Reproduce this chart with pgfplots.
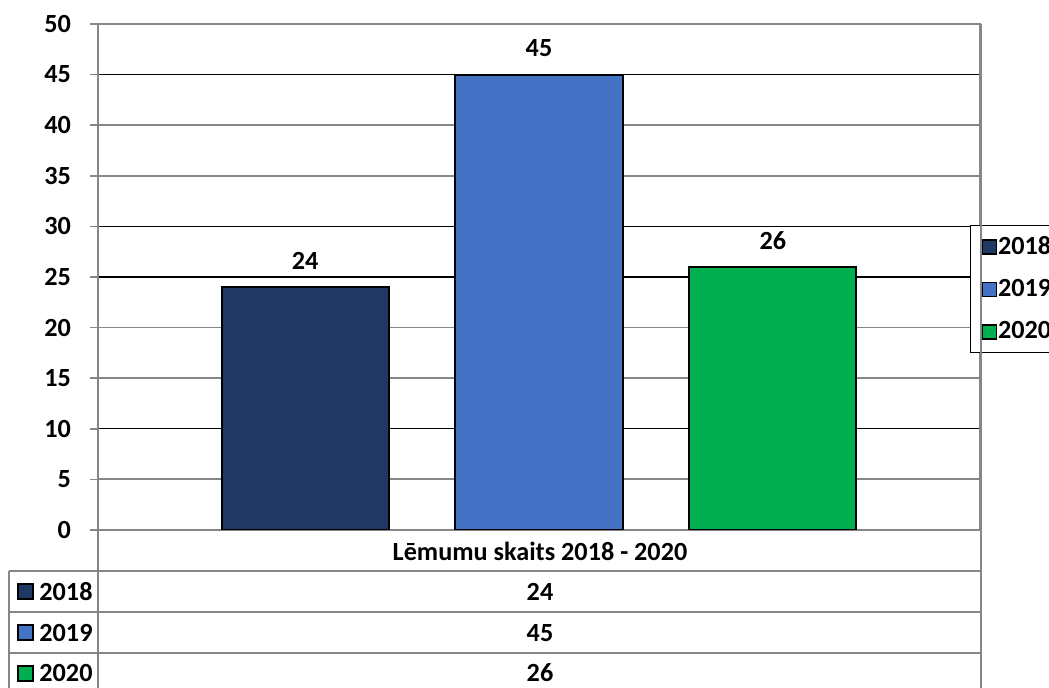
\documentclass[border=0pt]{standalone}
\usepackage{fontspec}
\setmainfont{Carlito}
\usepackage{pgfplots}
\pgfplotsset{compat=1.18}

\definecolor{c2018}{RGB}{32,56,100}
\definecolor{c2019}{RGB}{68,114,196}
\definecolor{c2020}{RGB}{0,176,80}
\definecolor{axgray}{RGB}{134,134,134}

\newcommand{\lbl}{\fontsize{13.1}{15}\selectfont\bfseries}

\begin{document}
\begin{tikzpicture}
\useasboundingbox (0,0) rectangle (524.5pt,344pt);
\clip (0,0) rectangle (524.5pt,344pt);
\begin{axis}[
    at={(49pt,79pt)}, anchor=south west,
    scale only axis, width=441pt, height=253pt,
    xmin=-1.885, xmax=1.885,
    ymin=0, ymax=50,
    ybar, bar width=0.714, bar shift=0pt,
    xtick=\empty,
    ytick={10,25,30,45},
    extra y ticks={0,5,15,20,35,40,50},
    ymajorgrids=true,
    grid style={black, line width=0.6pt},
    extra y tick style={grid style={axgray, line width=0.9pt}},
    ytick pos=left, tick align=outside,
    major tick length=4pt,
    tick style={axgray, line width=0.8pt},
    axis line style={axgray, line width=1.3pt},
    /pgf/number format/assume math mode=true,
    yticklabel style={font=\lbl, xshift=-6pt},
    nodes near coords,
    every node near coord/.append style={font=\lbl, yshift=5pt, black},
    legend style={at={(0.9887,0.6028)}, anchor=north west,
        draw=black, line width=0.5pt, font=\lbl,
        inner xsep=5.5pt, inner ysep=3.5pt,
        nodes={inner xsep=0.5pt},
        row sep=7pt, cells={anchor=west}},
    legend image code/.code={\draw[#1, draw=black, line width=0.8pt] (0pt,-3.5pt) rectangle (7pt,3.5pt);},
]
\addplot[fill=c2018, draw=black, line width=1pt] coordinates {(-1,24)};
\addplot[fill=c2019, draw=black, line width=1pt] coordinates {(0,45)};
\addplot[fill=c2020, draw=black, line width=1pt] coordinates {(1,26)};
\legend{2018,2019,2020}
\end{axis}
% data table below the plot (pixel coordinates of the reference)
\begin{scope}[x=0.5pt, y=-0.5pt, yshift=344pt]
  \draw[axgray, line width=1.3pt] (981,24) -- (981,694);
  \draw[axgray, line width=1.3pt] (98,530) -- (98,694);
  \draw[axgray, line width=1pt] (9,571) -- (981,571);
  \draw[axgray, line width=1pt] (9,612) -- (981,612);
  \draw[axgray, line width=1pt] (9,653) -- (981,653);
  \draw[axgray, line width=1pt] (9,571) -- (9,694);
  \node[font=\lbl] at (540,551) {Lēmumu skaits 2018 - 2020};
  \node[font=\lbl] at (540,592) {24};
  \node[font=\lbl] at (540,633) {45};
  \node[font=\lbl] at (540,673) {26};
  \draw[fill=c2018, draw=black, line width=0.8pt] (18,584) rectangle (33,599);
  \draw[fill=c2019, draw=black, line width=0.8pt] (18,625) rectangle (33,640);
  \draw[fill=c2020, draw=black, line width=0.8pt] (18,666) rectangle (33,681);
  \node[font=\lbl, anchor=west, inner sep=0pt] at (39,592) {2018};
  \node[font=\lbl, anchor=west, inner sep=0pt] at (39,633) {2019};
  \node[font=\lbl, anchor=west, inner sep=0pt] at (39,673) {2020};
\end{scope}
\end{tikzpicture}
\end{document}
